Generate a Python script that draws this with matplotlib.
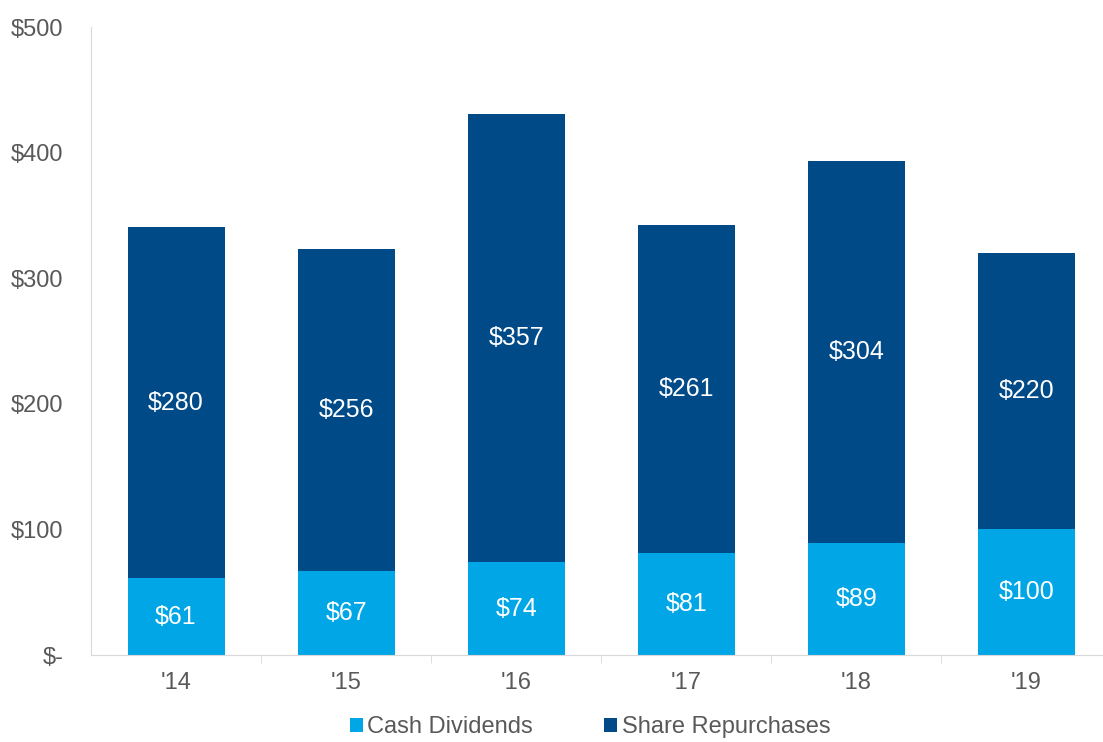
import matplotlib
matplotlib.use("Agg")
from matplotlib import pyplot as plt
import numpy as np

years = ["'14", "'15", "'16", "'17", "'18", "'19"]
dividends = [61, 67, 74, 81, 89, 100]
repurchases = [280, 256, 357, 261, 304, 220]
y_ticks = [0, 100, 200, 300, 400, 500]
y_labels = ["$-", "$100", "$200", "$300", "$400", "$500"]

light = "#00A6E6"
dark = "#004A88"
grey = "#595959"

plt.rcParams["font.family"] = ["Liberation Sans", "DejaVu Sans"]

fig = plt.figure(figsize=(11.03, 7.42), dpi=100)
ax = fig.add_axes([91 / 1103, 87 / 742, 1012 / 1103, 628 / 742])

x = np.arange(len(years))
w = 0.57
ax.bar(x, dividends, w, color=light, label="Cash Dividends")
ax.bar(x, repurchases, w, bottom=dividends, color=dark, label="Share Repurchases")

for i in range(len(years)):
    ax.text(x[i], dividends[i] / 2, f"${dividends[i]}", ha="center", va="center",
            color="white", fontsize=18)
    ax.text(x[i], dividends[i] + repurchases[i] / 2, f"${repurchases[i]}", ha="center",
            va="center", color="white", fontsize=18)

ax.set_xlim(-0.5, 5.45)
ax.set_ylim(0, 500)
ax.set_yticks(y_ticks)
ax.set_yticklabels(y_labels)
ax.set_xticks(x)
ax.set_xticklabels(years)
ax.set_xticks(np.arange(0.5, 5.5, 1), minor=True)
ax.tick_params(axis="y", length=0, pad=20, labelsize=17, labelcolor=grey)
ax.tick_params(axis="x", which="major", length=0, pad=12, labelsize=17, labelcolor=grey)
ax.tick_params(axis="x", which="minor", length=6, color="#D9D9D9")

for s in ["top", "right"]:
    ax.spines[s].set_visible(False)
ax.spines["left"].set_color("#D9D9D9")
ax.spines["bottom"].set_color("#D9D9D9")

ax.legend(loc="center", bbox_to_anchor=(0.493, -0.115), ncol=2, frameon=False,
          fontsize=17, labelcolor=grey, handlelength=0.55, handleheight=0.55,
          handletextpad=0.2, columnspacing=3.0)

fig.savefig("out.png", dpi=100)
